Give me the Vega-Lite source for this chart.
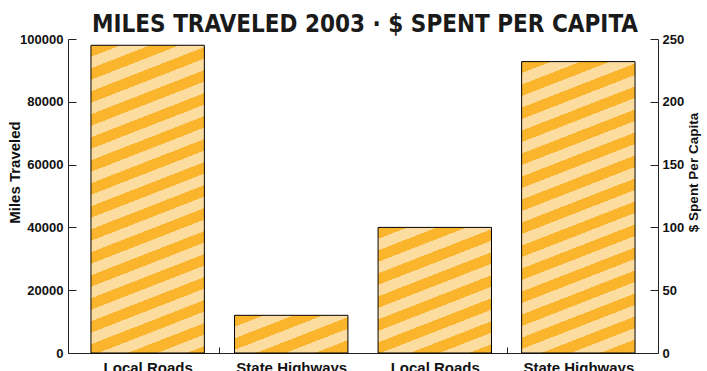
{
  "$schema": "https://vega.github.io/schema/vega-lite/v6.json",
  "width": 590,
  "height": 314,
  "autosize": {"type": "none"},
  "padding": {"left": 68, "top": 39, "right": 49, "bottom": 18},
  "background": "white",
  "title": {
    "text": "MILES TRAVELED 2003 · $ SPENT PER CAPITA",
    "font": "DejaVu Sans Condensed, sans-serif",
    "fontSize": 24,
    "fontWeight": "bold",
    "color": "#1a1a1a",
    "anchor": "middle",
    "frame": "group",
    "baseline": "alphabetic",
    "offset": 4,
    "dx": 2,
    "dy": 27
  },
  "config": {
    "view": {"stroke": null},
    "axis": {
      "labelFont": "Liberation Sans",
      "titleFont": "Liberation Sans",
      "labelColor": "#111",
      "titleColor": "#111",
      "domainColor": "#222",
      "tickColor": "#222",
      "domainWidth": 1,
      "tickWidth": 1,
      "grid": false
    }
  },
  "data": {
    "values": [
      {"bar": "Miles: Local Roads", "value": 98000},
      {"bar": "Miles: State Highways", "value": 12000},
      {"bar": "Dollars: Local Roads", "value": 100},
      {"bar": "Dollars: State Highways", "value": 232}
    ]
  },
  "encoding": {
    "x": {
      "field": "bar",
      "type": "nominal",
      "scale": {
        "domain": ["Miles: Local Roads", "Miles: State Highways", "Dollars: Local Roads", "Dollars: State Highways"],
        "paddingInner": 0.21,
        "paddingOuter": 0.16
      },
      "axis": {
        "title": null,
        "labelAngle": 0,
        "labelExpr": "split(datum.label, ': ')[1]",
        "labelFontSize": 15,
        "labelFontWeight": "bold",
        "labelPadding": 13,
        "tickSize": -6,
        "tickOffset": 71.8,
        "labelOffset": -71.8,
        "tickOpacity": {"condition": {"test": "datum.value == 'Miles: Local Roads' || datum.value == 'Dollars: Local Roads'", "value": 1}, "value": 0}
      }
    }
  },
  "layer": [
    {
      "encoding": {
        "y": {
          "field": "value",
          "type": "quantitative",
          "scale": {"domain": [0, 100000], "nice": false},
          "axis": {
            "orient": "left",
            "values": [0, 20000, 40000, 60000, 80000, 100000],
            "format": "d",
            "title": "Miles Traveled",
            "tickSize": -8,
            "labelPadding": 13,
            "labelFontSize": 13,
            "labelFontWeight": "bold",
            "titleFontSize": 15,
            "titleFontWeight": "bold",
            "titleAngle": -90,
            "titleX": -49,
            "titleY": 133,
            "titleAlign": "center",
            "titleBaseline": "alphabetic"
          }
        }
      },
      "layer": [
        {
          "transform": [{"filter": "datum.bar == 'Miles: Local Roads'"}],
          "mark": {
            "type": "bar",
            "stroke": "#000",
            "strokeWidth": 1,
            "fill": {
              "gradient": "linear", "x1": 0, "y1": 0, "x2": 0.2103, "y2": 1.4646,
              "stops": [
                {"offset": 0, "color": "#FBB52C"}, {"offset": 0.025, "color": "#FBB52C"}, {"offset": 0.025, "color": "#FDDCA0"}, {"offset": 0.05, "color": "#FDDCA0"},
                {"offset": 0.05, "color": "#FBB52C"}, {"offset": 0.075, "color": "#FBB52C"}, {"offset": 0.075, "color": "#FDDCA0"}, {"offset": 0.1, "color": "#FDDCA0"},
                {"offset": 0.1, "color": "#FBB52C"}, {"offset": 0.125, "color": "#FBB52C"}, {"offset": 0.125, "color": "#FDDCA0"}, {"offset": 0.15, "color": "#FDDCA0"},
                {"offset": 0.15, "color": "#FBB52C"}, {"offset": 0.175, "color": "#FBB52C"}, {"offset": 0.175, "color": "#FDDCA0"}, {"offset": 0.2, "color": "#FDDCA0"},
                {"offset": 0.2, "color": "#FBB52C"}, {"offset": 0.225, "color": "#FBB52C"}, {"offset": 0.225, "color": "#FDDCA0"}, {"offset": 0.25, "color": "#FDDCA0"},
                {"offset": 0.25, "color": "#FBB52C"}, {"offset": 0.275, "color": "#FBB52C"}, {"offset": 0.275, "color": "#FDDCA0"}, {"offset": 0.3, "color": "#FDDCA0"},
                {"offset": 0.3, "color": "#FBB52C"}, {"offset": 0.325, "color": "#FBB52C"}, {"offset": 0.325, "color": "#FDDCA0"}, {"offset": 0.35, "color": "#FDDCA0"},
                {"offset": 0.35, "color": "#FBB52C"}, {"offset": 0.375, "color": "#FBB52C"}, {"offset": 0.375, "color": "#FDDCA0"}, {"offset": 0.4, "color": "#FDDCA0"},
                {"offset": 0.4, "color": "#FBB52C"}, {"offset": 0.425, "color": "#FBB52C"}, {"offset": 0.425, "color": "#FDDCA0"}, {"offset": 0.45, "color": "#FDDCA0"},
                {"offset": 0.45, "color": "#FBB52C"}, {"offset": 0.475, "color": "#FBB52C"}, {"offset": 0.475, "color": "#FDDCA0"}, {"offset": 0.5, "color": "#FDDCA0"},
                {"offset": 0.5, "color": "#FBB52C"}, {"offset": 0.525, "color": "#FBB52C"}, {"offset": 0.525, "color": "#FDDCA0"}, {"offset": 0.55, "color": "#FDDCA0"},
                {"offset": 0.55, "color": "#FBB52C"}, {"offset": 0.575, "color": "#FBB52C"}, {"offset": 0.575, "color": "#FDDCA0"}, {"offset": 0.6, "color": "#FDDCA0"},
                {"offset": 0.6, "color": "#FBB52C"}, {"offset": 0.625, "color": "#FBB52C"}, {"offset": 0.625, "color": "#FDDCA0"}, {"offset": 0.65, "color": "#FDDCA0"},
                {"offset": 0.65, "color": "#FBB52C"}, {"offset": 0.675, "color": "#FBB52C"}, {"offset": 0.675, "color": "#FDDCA0"}, {"offset": 0.7, "color": "#FDDCA0"},
                {"offset": 0.7, "color": "#FBB52C"}, {"offset": 0.725, "color": "#FBB52C"}, {"offset": 0.725, "color": "#FDDCA0"}, {"offset": 0.75, "color": "#FDDCA0"},
                {"offset": 0.75, "color": "#FBB52C"}, {"offset": 0.775, "color": "#FBB52C"}, {"offset": 0.775, "color": "#FDDCA0"}, {"offset": 0.8, "color": "#FDDCA0"},
                {"offset": 0.8, "color": "#FBB52C"}, {"offset": 0.825, "color": "#FBB52C"}, {"offset": 0.825, "color": "#FDDCA0"}, {"offset": 0.85, "color": "#FDDCA0"},
                {"offset": 0.85, "color": "#FBB52C"}, {"offset": 0.875, "color": "#FBB52C"}, {"offset": 0.875, "color": "#FDDCA0"}, {"offset": 0.9, "color": "#FDDCA0"},
                {"offset": 0.9, "color": "#FBB52C"}, {"offset": 0.925, "color": "#FBB52C"}, {"offset": 0.925, "color": "#FDDCA0"}, {"offset": 0.95, "color": "#FDDCA0"},
                {"offset": 0.95, "color": "#FBB52C"}, {"offset": 0.975, "color": "#FBB52C"}, {"offset": 0.975, "color": "#FDDCA0"}, {"offset": 1, "color": "#FDDCA0"}
              ]
            }
          }
        },
        {
          "transform": [{"filter": "datum.bar == 'Miles: State Highways'"}],
          "mark": {
            "type": "bar",
            "stroke": "#000",
            "strokeWidth": 1,
            "fill": {
              "gradient": "linear", "x1": 0, "y1": 0, "x2": 1.5068, "y2": 1.2846,
              "stops": [
                {"offset": 0, "color": "#FBB52C"}, {"offset": 0.1, "color": "#FBB52C"}, {"offset": 0.1, "color": "#FDDCA0"}, {"offset": 0.2, "color": "#FDDCA0"},
                {"offset": 0.2, "color": "#FBB52C"}, {"offset": 0.3, "color": "#FBB52C"}, {"offset": 0.3, "color": "#FDDCA0"}, {"offset": 0.4, "color": "#FDDCA0"},
                {"offset": 0.4, "color": "#FBB52C"}, {"offset": 0.5, "color": "#FBB52C"}, {"offset": 0.5, "color": "#FDDCA0"}, {"offset": 0.6, "color": "#FDDCA0"},
                {"offset": 0.6, "color": "#FBB52C"}, {"offset": 0.7, "color": "#FBB52C"}, {"offset": 0.7, "color": "#FDDCA0"}, {"offset": 0.8, "color": "#FDDCA0"},
                {"offset": 0.8, "color": "#FBB52C"}, {"offset": 0.9, "color": "#FBB52C"}, {"offset": 0.9, "color": "#FDDCA0"}, {"offset": 1, "color": "#FDDCA0"}
              ]
            }
          }
        }
      ]
    },
    {
      "encoding": {
        "y": {
          "field": "value",
          "type": "quantitative",
          "scale": {"domain": [0, 250], "nice": false},
          "axis": {
            "orient": "right",
            "values": [0, 50, 100, 150, 200, 250],
            "format": "d",
            "title": "$ Spent Per Capita",
            "tickSize": -8,
            "labelPadding": 12,
            "labelFontSize": 13,
            "labelFontWeight": "bold",
            "titleFontSize": 13.5,
            "titleFontWeight": "bold",
            "titleAngle": -90,
            "titleX": 39,
            "titleY": 133,
            "titleAlign": "center",
            "titleBaseline": "alphabetic"
          }
        }
      },
      "layer": [
        {
          "transform": [{"filter": "datum.bar == 'Dollars: Local Roads'"}],
          "mark": {
            "type": "bar",
            "stroke": "#000",
            "strokeWidth": 1,
            "fill": {
              "gradient": "linear", "x1": 0, "y1": 0, "x2": 0.5734, "y2": 1.6295,
              "stops": [
                {"offset": 0, "color": "#FBB52C"}, {"offset": 0.05, "color": "#FBB52C"}, {"offset": 0.05, "color": "#FDDCA0"}, {"offset": 0.1, "color": "#FDDCA0"},
                {"offset": 0.1, "color": "#FBB52C"}, {"offset": 0.15, "color": "#FBB52C"}, {"offset": 0.15, "color": "#FDDCA0"}, {"offset": 0.2, "color": "#FDDCA0"},
                {"offset": 0.2, "color": "#FBB52C"}, {"offset": 0.25, "color": "#FBB52C"}, {"offset": 0.25, "color": "#FDDCA0"}, {"offset": 0.3, "color": "#FDDCA0"},
                {"offset": 0.3, "color": "#FBB52C"}, {"offset": 0.35, "color": "#FBB52C"}, {"offset": 0.35, "color": "#FDDCA0"}, {"offset": 0.4, "color": "#FDDCA0"},
                {"offset": 0.4, "color": "#FBB52C"}, {"offset": 0.45, "color": "#FBB52C"}, {"offset": 0.45, "color": "#FDDCA0"}, {"offset": 0.5, "color": "#FDDCA0"},
                {"offset": 0.5, "color": "#FBB52C"}, {"offset": 0.55, "color": "#FBB52C"}, {"offset": 0.55, "color": "#FDDCA0"}, {"offset": 0.6, "color": "#FDDCA0"},
                {"offset": 0.6, "color": "#FBB52C"}, {"offset": 0.65, "color": "#FBB52C"}, {"offset": 0.65, "color": "#FDDCA0"}, {"offset": 0.7, "color": "#FDDCA0"},
                {"offset": 0.7, "color": "#FBB52C"}, {"offset": 0.75, "color": "#FBB52C"}, {"offset": 0.75, "color": "#FDDCA0"}, {"offset": 0.8, "color": "#FDDCA0"},
                {"offset": 0.8, "color": "#FBB52C"}, {"offset": 0.85, "color": "#FBB52C"}, {"offset": 0.85, "color": "#FDDCA0"}, {"offset": 0.9, "color": "#FDDCA0"},
                {"offset": 0.9, "color": "#FBB52C"}, {"offset": 0.95, "color": "#FBB52C"}, {"offset": 0.95, "color": "#FDDCA0"}, {"offset": 1, "color": "#FDDCA0"}
              ]
            }
          }
        },
        {
          "transform": [{"filter": "datum.bar == 'Dollars: State Highways'"}],
          "mark": {
            "type": "bar",
            "stroke": "#000",
            "strokeWidth": 1,
            "fill": {
              "gradient": "linear", "x1": 0, "y1": 0, "x2": 0.2341, "y2": 1.5432,
              "stops": [
                {"offset": 0, "color": "#FBB52C"}, {"offset": 0.025, "color": "#FBB52C"}, {"offset": 0.025, "color": "#FDDCA0"}, {"offset": 0.05, "color": "#FDDCA0"},
                {"offset": 0.05, "color": "#FBB52C"}, {"offset": 0.075, "color": "#FBB52C"}, {"offset": 0.075, "color": "#FDDCA0"}, {"offset": 0.1, "color": "#FDDCA0"},
                {"offset": 0.1, "color": "#FBB52C"}, {"offset": 0.125, "color": "#FBB52C"}, {"offset": 0.125, "color": "#FDDCA0"}, {"offset": 0.15, "color": "#FDDCA0"},
                {"offset": 0.15, "color": "#FBB52C"}, {"offset": 0.175, "color": "#FBB52C"}, {"offset": 0.175, "color": "#FDDCA0"}, {"offset": 0.2, "color": "#FDDCA0"},
                {"offset": 0.2, "color": "#FBB52C"}, {"offset": 0.225, "color": "#FBB52C"}, {"offset": 0.225, "color": "#FDDCA0"}, {"offset": 0.25, "color": "#FDDCA0"},
                {"offset": 0.25, "color": "#FBB52C"}, {"offset": 0.275, "color": "#FBB52C"}, {"offset": 0.275, "color": "#FDDCA0"}, {"offset": 0.3, "color": "#FDDCA0"},
                {"offset": 0.3, "color": "#FBB52C"}, {"offset": 0.325, "color": "#FBB52C"}, {"offset": 0.325, "color": "#FDDCA0"}, {"offset": 0.35, "color": "#FDDCA0"},
                {"offset": 0.35, "color": "#FBB52C"}, {"offset": 0.375, "color": "#FBB52C"}, {"offset": 0.375, "color": "#FDDCA0"}, {"offset": 0.4, "color": "#FDDCA0"},
                {"offset": 0.4, "color": "#FBB52C"}, {"offset": 0.425, "color": "#FBB52C"}, {"offset": 0.425, "color": "#FDDCA0"}, {"offset": 0.45, "color": "#FDDCA0"},
                {"offset": 0.45, "color": "#FBB52C"}, {"offset": 0.475, "color": "#FBB52C"}, {"offset": 0.475, "color": "#FDDCA0"}, {"offset": 0.5, "color": "#FDDCA0"},
                {"offset": 0.5, "color": "#FBB52C"}, {"offset": 0.525, "color": "#FBB52C"}, {"offset": 0.525, "color": "#FDDCA0"}, {"offset": 0.55, "color": "#FDDCA0"},
                {"offset": 0.55, "color": "#FBB52C"}, {"offset": 0.575, "color": "#FBB52C"}, {"offset": 0.575, "color": "#FDDCA0"}, {"offset": 0.6, "color": "#FDDCA0"},
                {"offset": 0.6, "color": "#FBB52C"}, {"offset": 0.625, "color": "#FBB52C"}, {"offset": 0.625, "color": "#FDDCA0"}, {"offset": 0.65, "color": "#FDDCA0"},
                {"offset": 0.65, "color": "#FBB52C"}, {"offset": 0.675, "color": "#FBB52C"}, {"offset": 0.675, "color": "#FDDCA0"}, {"offset": 0.7, "color": "#FDDCA0"},
                {"offset": 0.7, "color": "#FBB52C"}, {"offset": 0.725, "color": "#FBB52C"}, {"offset": 0.725, "color": "#FDDCA0"}, {"offset": 0.75, "color": "#FDDCA0"},
                {"offset": 0.75, "color": "#FBB52C"}, {"offset": 0.775, "color": "#FBB52C"}, {"offset": 0.775, "color": "#FDDCA0"}, {"offset": 0.8, "color": "#FDDCA0"},
                {"offset": 0.8, "color": "#FBB52C"}, {"offset": 0.825, "color": "#FBB52C"}, {"offset": 0.825, "color": "#FDDCA0"}, {"offset": 0.85, "color": "#FDDCA0"},
                {"offset": 0.85, "color": "#FBB52C"}, {"offset": 0.875, "color": "#FBB52C"}, {"offset": 0.875, "color": "#FDDCA0"}, {"offset": 0.9, "color": "#FDDCA0"},
                {"offset": 0.9, "color": "#FBB52C"}, {"offset": 0.925, "color": "#FBB52C"}, {"offset": 0.925, "color": "#FDDCA0"}, {"offset": 0.95, "color": "#FDDCA0"},
                {"offset": 0.95, "color": "#FBB52C"}, {"offset": 0.975, "color": "#FBB52C"}, {"offset": 0.975, "color": "#FDDCA0"}, {"offset": 1, "color": "#FDDCA0"}
              ]
            }
          }
        }
      ]
    }
  ],
  "resolve": {"scale": {"y": "independent"}}
}
